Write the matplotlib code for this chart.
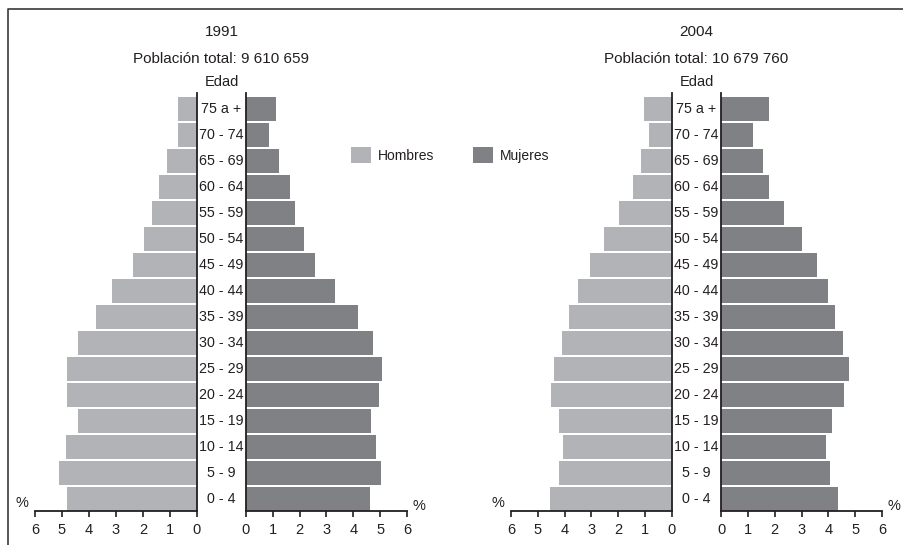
import matplotlib
matplotlib.use("Agg")
import matplotlib.pyplot as plt
from matplotlib.lines import Line2D
from matplotlib.patches import Patch
from matplotlib.ticker import FixedLocator

plt.rcParams['font.family'] = ['Liberation Sans', 'DejaVu Sans']
plt.rcParams['text.color'] = '#231f20'

edades = ['0 - 4', '5 - 9', '10 - 14', '15 - 19', '20 - 24', '25 - 29', '30 - 34',
          '35 - 39', '40 - 44', '45 - 49', '50 - 54', '55 - 59', '60 - 64',
          '65 - 69', '70 - 74', '75 a +']

# porcentajes, de 0-4 a 75 a +
hombres_1991 = [4.81, 5.12, 4.85, 4.40, 4.81, 4.81, 4.40, 3.74, 3.15, 2.36, 1.97,
                1.68, 1.42, 1.11, 0.70, 0.72]
mujeres_1991 = [4.63, 5.03, 4.85, 4.67, 4.95, 5.08, 4.73, 4.18, 3.33, 2.59, 2.18,
                1.84, 1.63, 1.24, 0.84, 1.10]
hombres_2004 = [4.56, 4.22, 4.06, 4.22, 4.51, 4.40, 4.09, 3.82, 3.52, 3.06, 2.55,
                1.96, 1.45, 1.14, 0.86, 1.03]
mujeres_2004 = [4.35, 4.07, 3.90, 4.15, 4.59, 4.76, 4.55, 4.23, 3.99, 3.56, 3.02,
                2.34, 1.80, 1.56, 1.21, 1.78]

anios = ['1991', '2004']
totales = ['9 610 659', '10 679 760']
ticks = [0, 1, 2, 3, 4, 5, 6]

c_hom = '#b2b3b6'
c_muj = '#808185'
c_lin = '#231f20'

W, H = 904, 545
fig = plt.figure(figsize=(W / 100, H / 100), dpi=100)


def px_axes(x0, x1, y_top, y_bot):
    return fig.add_axes([x0 / W, (H - y_bot) / H, (x1 - x0) / W, (y_bot - y_top) / H])


def estilo(ax, lado):
    ax.set_xlim(0, 6)
    ax.set_ylim(-0.46, 15.61)
    if lado == 'izq':
        ax.invert_xaxis()
    for s in ['top', 'left', 'right', 'bottom']:
        ax.spines[s].set_visible(False)
    ax.spines['bottom'].set_visible(True)
    ax.spines['right' if lado == 'izq' else 'left'].set_visible(True)
    for s in ax.spines.values():
        s.set_color(c_lin)
        s.set_linewidth(1.3)
    ax.set_yticks([])
    ax.set_xticks(ticks)
    ax.xaxis.set_minor_locator(FixedLocator([6]))
    ax.tick_params(axis='x', which='major', direction='out', length=4.3, width=1.2,
                   color=c_lin, pad=4.5, labelsize=10.5, labelcolor=c_lin)
    ax.tick_params(axis='x', which='minor', direction='inout', length=8.6, width=1.2,
                   color=c_lin)
    ax.patch.set_visible(False)


pos = list(range(len(edades)))
datos = [(hombres_1991, mujeres_1991), (hombres_2004, mujeres_2004)]
cols = [(35, 197, 246, 407), (511, 672, 721, 882)]

for k in range(2):
    hx0, hx1, mx0, mx1 = cols[k]
    ax_h = px_axes(hx0, hx1, 93, 511)
    ax_m = px_axes(mx0, mx1, 93, 511)
    ax_h.barh(pos, datos[k][0], height=0.92, color=c_hom)
    ax_m.barh(pos, datos[k][1], height=0.92, color=c_muj)
    estilo(ax_h, 'izq')
    estilo(ax_m, 'der')

    centro = (hx1 + mx0) / 2
    xc = (centro - hx0) / (hx1 - hx0)
    for i, e in enumerate(edades):
        ax_h.text(xc, i, e, transform=ax_h.get_yaxis_transform(), ha='center',
                  va='center', fontsize=10.3)

    fig.text(centro / W, 1 - 32 / H, anios[k], ha='center', va='center', fontsize=11)
    fig.text(centro / W, 1 - 59 / H, 'Población total: ' + totales[k], ha='center',
             va='center', fontsize=11)
    fig.text(centro / W, 1 - 82 / H, 'Edad', ha='center', va='center', fontsize=10.5)
    fig.text((hx0 - 13) / W, 1 - 503 / H, '%', ha='center', va='center', fontsize=10.5)
    fig.text((mx1 + 12) / W, 1 - 506 / H, '%', ha='center', va='center', fontsize=10.5)

handles = [Patch(facecolor=c_hom, edgecolor='none', label='Hombres'),
           Patch(facecolor=c_muj, edgecolor='none', label='Mujeres')]
fig.legend(handles=handles, loc='center left', bbox_to_anchor=(351 / W, 1 - 155 / H),
           ncol=2, frameon=False, fontsize=10, handlelength=1.44, handleheight=1.44,
           handletextpad=0.5, columnspacing=2.8, borderpad=0, borderaxespad=0)

# marco exterior (solo se ven los bordes izquierdo y superior)
fig.add_artist(Line2D([8 / W, 8 / W, 1], [0, 1 - 9 / H, 1 - 9 / H],
                      transform=fig.transFigure, color='#3a3a3a', linewidth=1.2))

fig.savefig('out.png', dpi=100)
